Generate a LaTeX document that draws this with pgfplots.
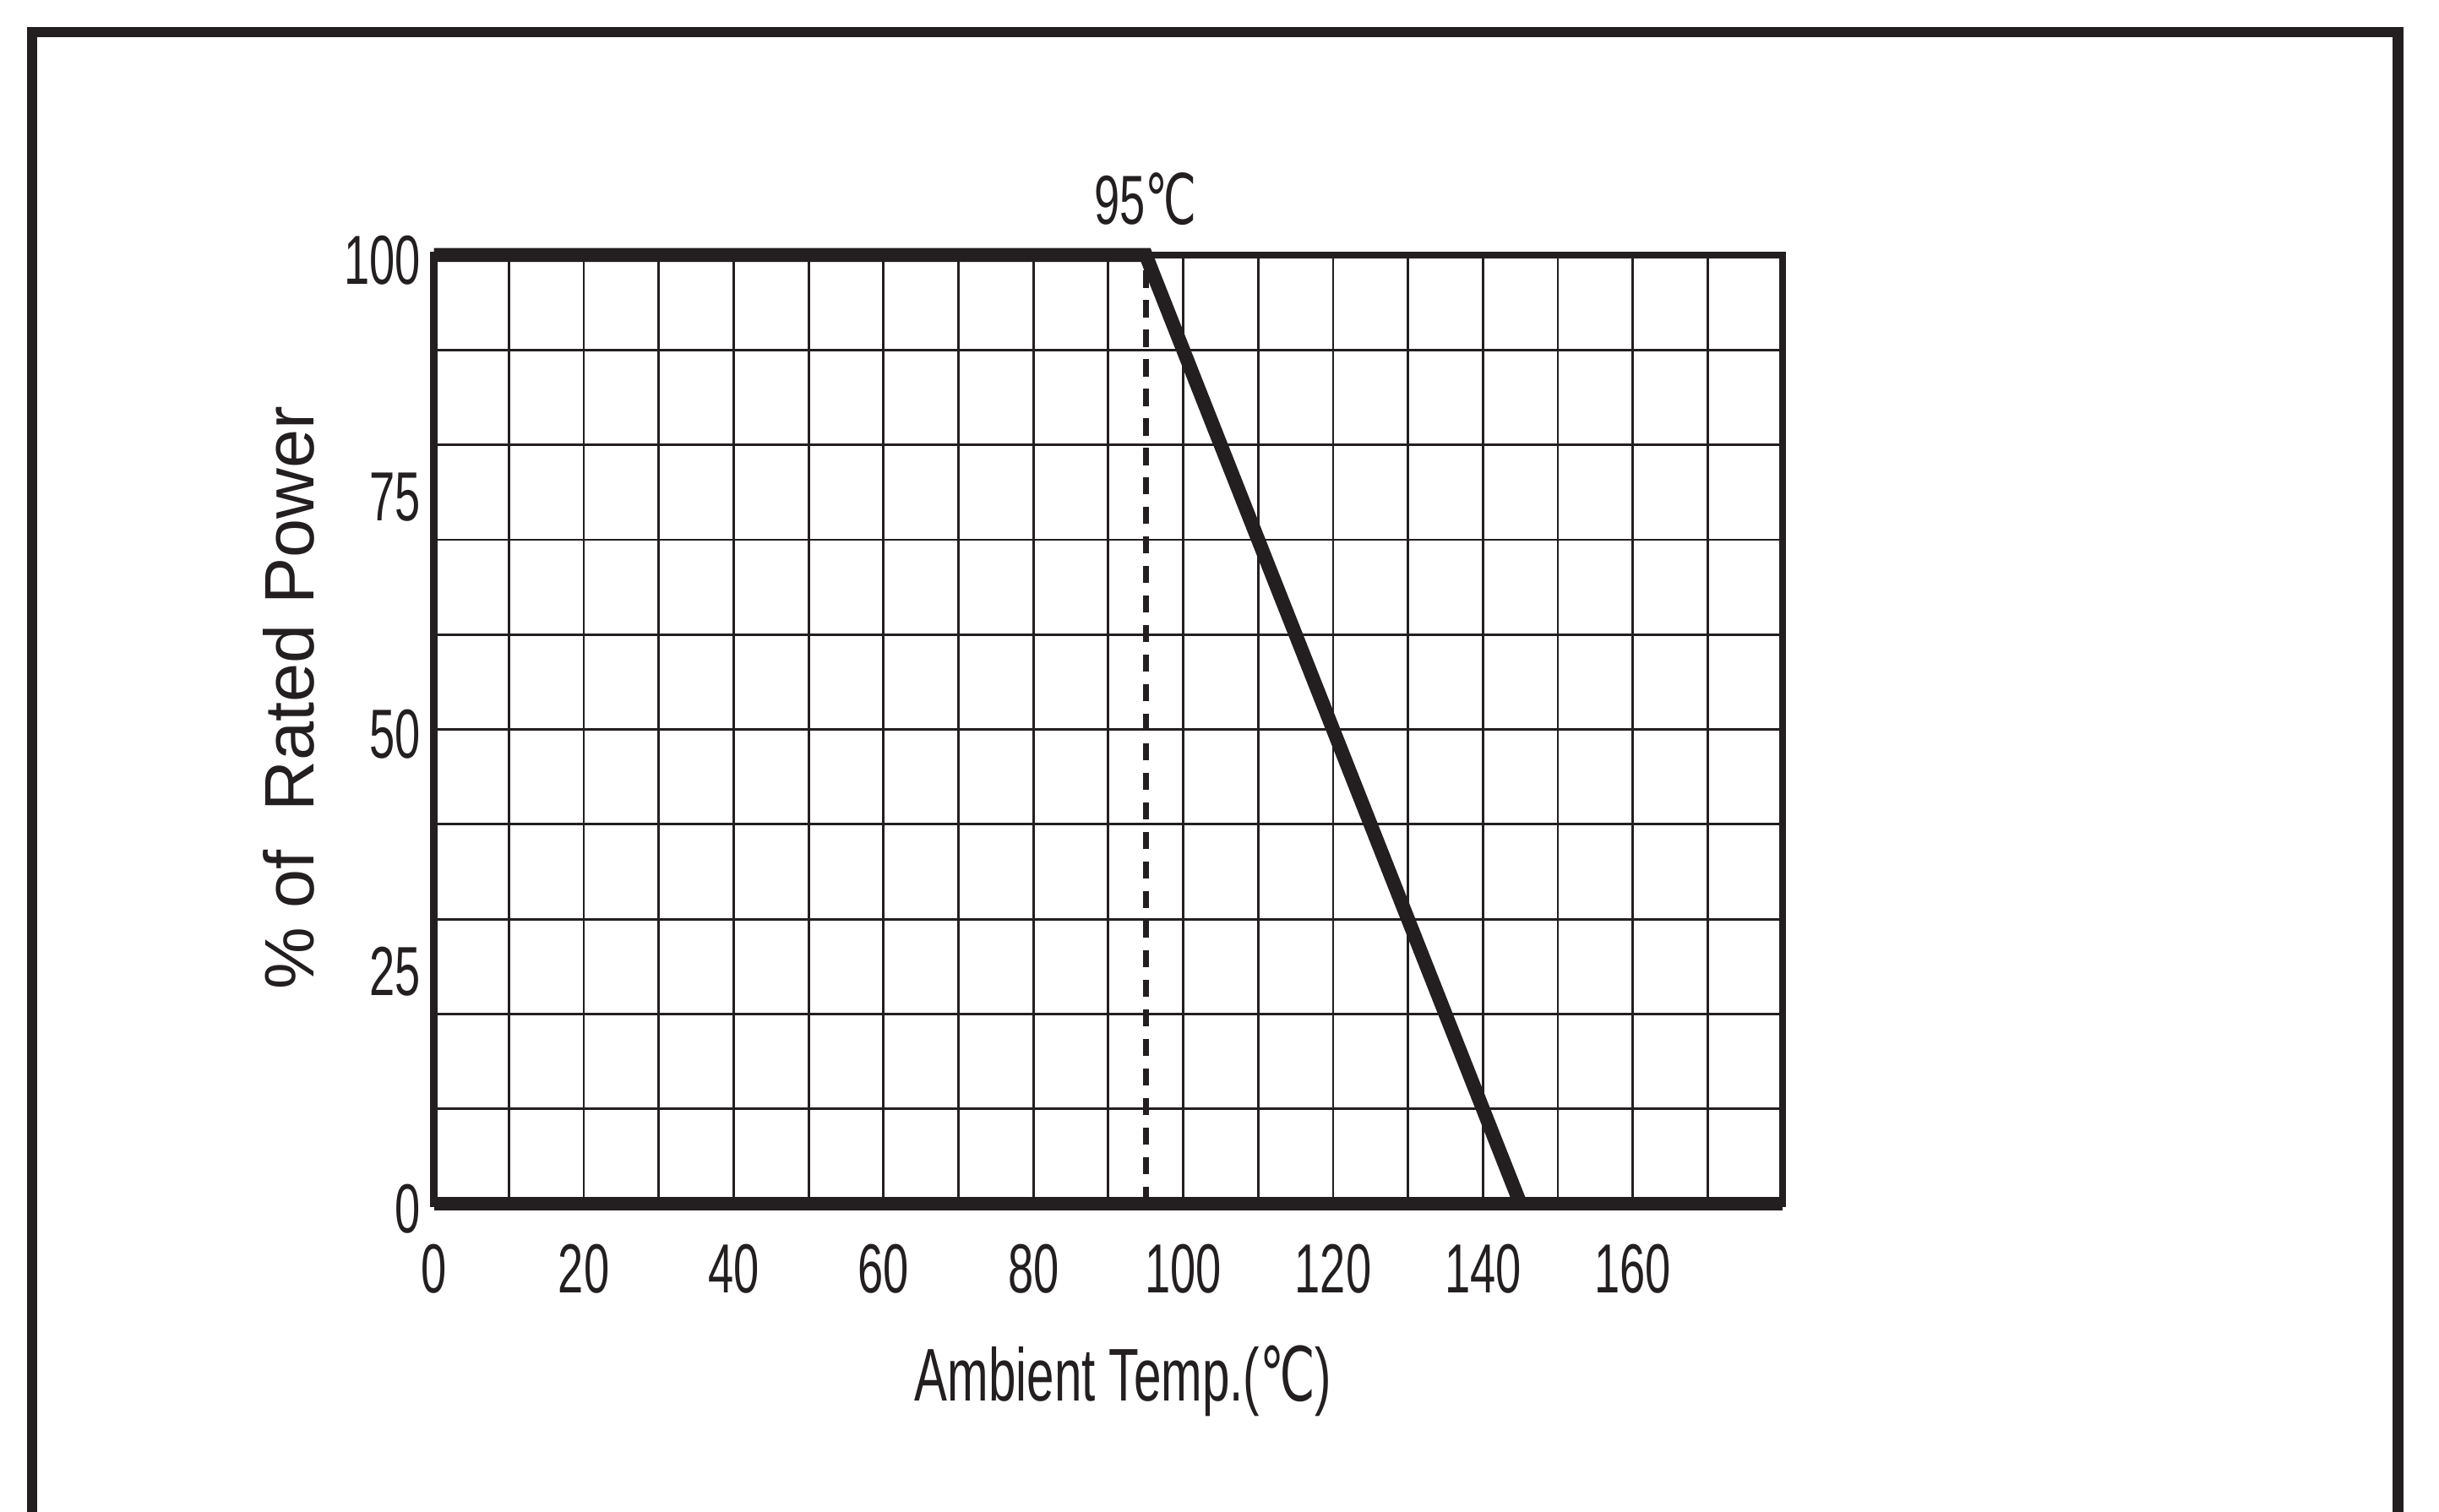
\documentclass[border=0pt]{standalone}
\usepackage{pgfplots}
\pgfplotsset{compat=1.18}
\usepackage{fontspec}
\setmainfont{Liberation Sans}
\newfontfamily\cond[FakeStretch=0.66]{Liberation Sans}
\newfontfamily\conddeg[FakeStretch=0.66]{DejaVu Sans}
\definecolor{ink}{HTML}{231F20}
\begin{document}
\begin{tikzpicture}[x=1pt,y=1pt]
\path[use as bounding box] (0,0) rectangle (470.4,291.6);
\draw[line width=2.1pt, color=ink, line join=miter] (6.2,-5) -- (6.2,285.4) -- (462.5,285.4) -- (462.5,-5);
\begin{axis}[
  at={(83.7pt,59.4pt)}, anchor=south west,
  scale only axis, width=260.1pt, height=183pt,
  xmin=0, xmax=180, ymin=0, ymax=100,
  clip=false,
  axis line style={line width=1.4pt, color=ink},
  xtick={0,20,...,160},
  minor xtick={10,30,...,170},
  ytick={0,25,50,75,100},
  minor ytick={10,20,...,90},
  xmajorgrids=true, xminorgrids=true,
  ymajorgrids=false, yminorgrids=true,
  major grid style={line width=0.45pt, color=ink},
  minor grid style={line width=0.45pt, color=ink},
  major tick length=0pt, minor tick length=0pt,
  /pgf/number format/assume math mode=true,
  tick label style={font=\cond\fontsize{13.4}{14}\selectfont, color=ink},
  xticklabel style={anchor=center, yshift=-12.6pt},
  yticklabel style={anchor=east, inner sep=0pt, xshift=-2.4pt, yshift=-1pt},
  xlabel={\cond\fontsize{14.4}{15}\selectfont Ambient Temp.(\conddeg ℃\cond)},
  xlabel style={at={(axis description cs:0.511,0)}, anchor=center, yshift=-34.2pt, color=ink},
  ylabel={\fontsize{13.5}{15}\selectfont \%\ of\ \ Rated Power},
  ylabel style={at={(axis description cs:-0.1077,0.533)}, anchor=center, color=ink},
]
\addplot[color=ink, line width=1.1pt, dash pattern=on 3.3pt off 2.4pt, forget plot] coordinates {(95,0) (95,100)};
\addplot[color=ink, line width=2.7pt, forget plot] coordinates {(0,0) (180,0)};
\addplot[color=ink, line width=2.7pt, line join=miter] coordinates {(0,100) (95,100) (145,0)};
\node[anchor=center, color=ink, font=\cond\fontsize{13.4}{14}\selectfont] at (axis cs:95,100) [yshift=10.8pt] {95\conddeg ℃};
\end{axis}
\end{tikzpicture}
\end{document}
